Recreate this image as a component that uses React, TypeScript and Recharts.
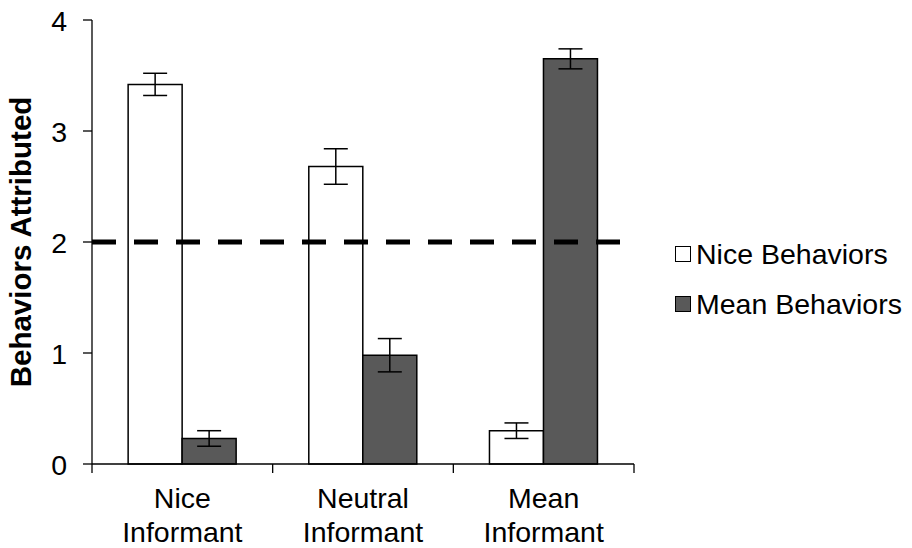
import React from "react";
import { BarChart, Bar, XAxis, YAxis, ErrorBar, ReferenceLine } from "recharts";

const categories = ["Nice|Informant", "Neutral|Informant", "Mean|Informant"];
const niceValues = [3.42, 2.68, 0.3];
const niceErrors = [0.1, 0.16, 0.07];
const meanValues = [0.23, 0.98, 3.65];
const meanErrors = [0.07, 0.15, 0.09];
const yTicks = [0, 1, 2, 3, 4];
const seriesNames = ["Nice Behaviors", "Mean Behaviors"];
const seriesFills = ["#ffffff", "#595959"];

const data = categories.map((c, i) => ({
  name: c,
  nice: niceValues[i],
  niceErr: niceErrors[i],
  mean: meanValues[i],
  meanErr: meanErrors[i],
}));

const FONT = "'Liberation Sans', Arial, sans-serif";
const FS = 28.5;

const XTick = (props: any) => {
  const { x, y, payload, index } = props;
  const half = payload && payload.offset ? payload.offset : 90.3;
  const lines = String(payload.value).split("|");
  const axisY = y - 11;
  return (
    <g>
      <line x1={x - half} x2={x - half} y1={axisY} y2={axisY + 9} stroke="#000" strokeWidth={1.3} />
      {index === categories.length - 1 && (
        <line x1={x + half} x2={x + half} y1={axisY} y2={axisY + 9} stroke="#000" strokeWidth={1.3} />
      )}
      {lines.map((l, i) => (
        <text key={i} x={x} y={axisY + 44 + i * 34} textAnchor="middle" fontSize={FS} fontFamily={FONT} fill="#000">
          {l}
        </text>
      ))}
    </g>
  );
};

export default function App() {
  return (
    <div style={{ position: "absolute", left: 0, top: 0, width: 912, height: 548, background: "#fff" }}>
      <BarChart
        width={912}
        height={548}
        data={data}
        margin={{ top: 20, right: 278, left: 0, bottom: 0 }}
        barCategoryGap="20%"
        barGap={0}
      >
        <XAxis
          dataKey="name"
          height={84}
          tickLine={false}
          tickSize={9}
          tick={<XTick />}
          axisLine={{ stroke: "#000", strokeWidth: 1.3 }}
          interval={0}
        />
        <YAxis
          width={92}
          domain={[0, 4]}
          ticks={yTicks}
          tickSize={9}
          tickMargin={16}
          tickLine={{ stroke: "#000", strokeWidth: 1.3 }}
          axisLine={{ stroke: "#000", strokeWidth: 1.3 }}
          tick={{ fontSize: FS, fontFamily: FONT, fill: "#000", dy: 1 }}
          label={{
            value: "Behaviors Attributed",
            angle: -90,
            position: "insideLeft",
            dx: 16,
            dy: 0,
            style: { textAnchor: "middle", fontSize: 29.5, fontWeight: "bold", fontFamily: FONT, fill: "#000" },
          }}
        />
        <Bar dataKey="nice" name={seriesNames[0]} fill={seriesFills[0]} stroke="#000" strokeWidth={1.5} isAnimationActive={false}>
          <ErrorBar dataKey="niceErr" width={12} stroke="#000" strokeWidth={1.5} />
        </Bar>
        <Bar dataKey="mean" name={seriesNames[1]} fill={seriesFills[1]} stroke="#000" strokeWidth={1.5} isAnimationActive={false}>
          <ErrorBar dataKey="meanErr" width={12} stroke="#000" strokeWidth={1.5} />
        </Bar>
        <ReferenceLine y={2} stroke="#000" strokeWidth={5} strokeDasharray="24 18" />
      </BarChart>
      <div style={{ position: "absolute", left: 675, top: 229, fontFamily: FONT, fontSize: FS, color: "#000", lineHeight: "50px" }}>
        {seriesNames.map((n, i) => (
          <div key={n} style={{ display: "flex", alignItems: "center", height: 50, whiteSpace: "nowrap" }}>
            <div
              style={{
                width: 14,
                height: 14,
                border: "1.5px solid #000",
                background: seriesFills[i],
                marginRight: 5,
                flex: "none",
              }}
            />
            <span>{n}</span>
          </div>
        ))}
      </div>
    </div>
  );
}
